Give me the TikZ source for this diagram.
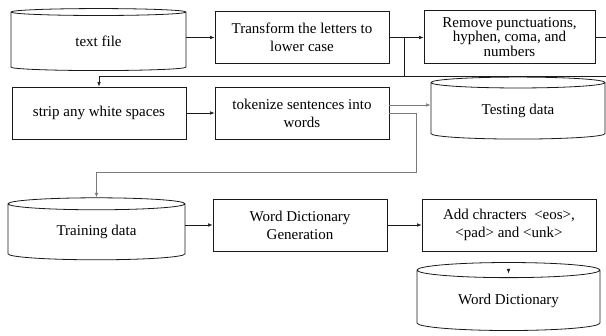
\documentclass[tikz,border=0pt]{standalone}
\usepackage{fontspec}
\setmainfont{Liberation Serif}
\usetikzlibrary{arrows.meta, positioning, calc, shapes.geometric}
\definecolor{flowLine}{HTML}{1A1A1A}
\definecolor{flowGray}{HTML}{7A7A7A}

\begin{document}
\begin{tikzpicture}[
    x=1pt, y=-1pt,
    font=\fontsize{15}{18}\selectfont,
    >={Latex[length=4.5pt,width=3.5pt]},
    procbox/.style={
        draw=flowLine,
        line width=0.8pt,
        minimum width=174pt,
        minimum height=52pt,
        inner sep=2pt,
        align=center
    },
    store/.style={
        cylinder,
        shape border rotate=90,
        draw=flowLine,
        line width=0.8pt,
        aspect=0.15,
        minimum width=175pt,
        minimum height=62pt,
        inner sep=0pt,
        align=center
    },
    arrow/.style={->, line width=0.6pt, draw=flowLine},
    link/.style={line width=0.6pt, draw=flowLine},
    grayarrow/.style={->, line width=0.6pt, draw=flowGray},
]
\useasboundingbox (0,0) rectangle (606,336);

% first row
\node[store] (textfile) at (98.5,41.5) {text file};
\node[procbox] (transform) at (302,37.5) {Transform the letters to\\lower case};
\node[procbox, minimum width=171pt, minimum height=53pt,
      font=\fontsize{15}{13.5}\selectfont] (remove) at (509.5,37)
    {Remove punctuations,\\hyphen, coma, and\\numbers};

% second row
\node[procbox] (strip) at (99,113) {strip any white spaces};
\node[procbox] (tokenize) at (302,113) {tokenize sentences into\\words};
\node[store, minimum width=174pt, minimum height=62pt] (testing) at (518,111)
    {\raisebox{-3pt}{Testing data}};

% third row
\node[store, minimum width=177pt, minimum height=62pt] (training) at (96.5,232)
    {\raisebox{-3pt}{Training data}};
\node[procbox] (wdgen) at (300,225) {Word Dictionary\\Generation};
\node[procbox] (addchars) at (509,225) {Add chracters\ \ <eos>,\\<pad> and <unk>};
\node[store, minimum width=183pt, minimum height=68pt] (wdict) at (508.5,300.5) {Word Dictionary};

\coordinate (split) at (404,37.5);
\coordinate (backtop) at (404,76);
\coordinate (rightedge) at (606,76);
\coordinate (exitr) at (606,37);
\coordinate (turn) at (416,172);
\coordinate (dictin) at ($(wdict.center)+(0,-31.5)$);

\draw[arrow] (transform.west -| textfile.east) -- (transform.west);
\draw[link] (transform.east) -- (split);
\draw[arrow] (split) -- (remove.west |- split);
\draw[link] (remove.east |- exitr) -- (exitr);
\draw[link] (split) -- (backtop);
\draw[arrow] (rightedge) -- (strip.north |- rightedge) -- (strip.north);

\draw[arrow] (strip) -- (tokenize);
\draw[grayarrow] ([yshift=8pt]tokenize.east) -- ([yshift=8pt]tokenize.east -| testing.west);
\draw[grayarrow] (tokenize.east) -| (turn) -| (training.north);

\draw[arrow] (training.east |- wdgen.west) -- (wdgen.west);
\draw[arrow] (wdgen) -- (addchars);
\draw[arrow] (dictin) -- ++(0,4.5);

\end{tikzpicture}
\end{document}
